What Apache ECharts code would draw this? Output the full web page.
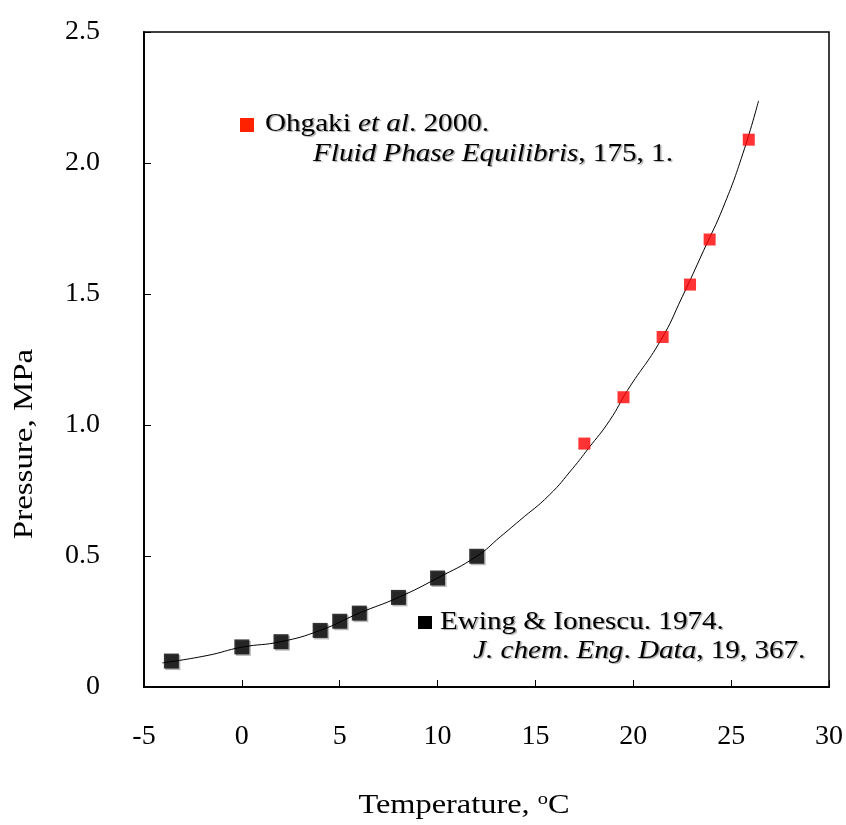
<!DOCTYPE html>
<html>
<head>
<meta charset="utf-8">
<script src="https://cdn.jsdelivr.net/npm/echarts@6/dist/echarts.min.js"></script>
<style>html,body{margin:0;padding:0;background:#fff}#c{width:846px;height:825px}</style>
</head>
<body>
<div id="c"></div>
<script>
// Ewing & Ionescu 1974 (black)
var ewingT = [-3.6, 0.0, 2.0, 4.0, 5.0, 6.0, 8.0, 10.0, 12.0];
var ewingP = [0.099, 0.153, 0.173, 0.216, 0.251, 0.282, 0.342, 0.416, 0.499];
// Ohgaki et al. 2000 (red)
var ohgakiT = [17.5, 19.5, 21.5, 22.9, 23.9, 25.9];
var ohgakiP = [0.929, 1.106, 1.336, 1.536, 1.708, 2.089];
// fitted curve
var curveT = [-4.06, -1.78, 0.0, 2.0, 4.0, 6.0, 8.0, 10.0, 12.0, 13.2, 14.2, 15.7, 16.9, 17.7, 18.8, 19.7, 21.4, 22.5, 23.6, 24.6, 25.6, 26.4];
var curveP = [0.092, 0.120, 0.152, 0.173, 0.216, 0.282, 0.342, 0.416, 0.499, 0.573, 0.636, 0.732, 0.834, 0.910, 1.018, 1.132, 1.323, 1.489, 1.667, 1.832, 2.036, 2.237];
var xTicks = ['-5', '0', '5', '10', '15', '20', '25', '30'];
var yTicks = ['0', '0.5', '1.0', '1.5', '2.0', '2.5'];

function zip(a, b) { return a.map(function (v, i) { return [v, b[i]]; }); }

var FONT = 'Liberation Serif';
var shadow = { textShadowColor: 'rgba(0,0,0,0.35)', textShadowOffsetX: 1.5, textShadowOffsetY: 1.5, textShadowBlur: 1 };
function st(o) { var r = { fontFamily: FONT, fontSize: 26, fill: '#000' }; for (var k in shadow) r[k] = shadow[k]; for (var k2 in o) r[k2] = o[k2]; return r; }
var richNI = { n: { fontFamily: FONT, fontSize: 26 }, i: { fontFamily: FONT, fontSize: 26, fontStyle: 'italic' } };
var SX = 1.12;

var chart = echarts.init(document.getElementById('c'));
chart.setOption({
  animation: false,
  backgroundColor: '#fff',
  grid: { left: 144, right: 16, top: 32, bottom: 138, show: true, borderColor: '#000', borderWidth: 1.5 },
  xAxis: {
    type: 'value', min: -5, max: 30, interval: 5,
    axisLine: { onZero: false, lineStyle: { color: '#000', width: 2 } },
    axisTick: { inside: true, length: 7, lineStyle: { color: '#000', width: 1 } },
    axisLabel: { margin: 36, fontFamily: FONT, fontSize: 28, color: '#000',
      formatter: function (v) { return xTicks[Math.round((v + 5) / 5)]; } },
    splitLine: { show: false }
  },
  yAxis: {
    type: 'value', min: 0, max: 2.5, interval: 0.5,
    axisLine: { onZero: false, lineStyle: { color: '#000', width: 2 } },
    axisTick: { inside: true, length: 7, lineStyle: { color: '#000', width: 1 } },
    axisLabel: { margin: 44, fontFamily: FONT, fontSize: 28, color: '#000', padding: [0, 0, 10, 0],
      formatter: function (v) { return yTicks[Math.round(v / 0.5)]; } },
    splitLine: { show: false }
  },
  series: [
    { type: 'line', data: zip(curveT, curveP), smooth: true, showSymbol: false, symbol: 'none',
      lineStyle: { color: '#000', width: 1 }, z: 2 },
    { type: 'scatter', data: zip(ewingT, ewingP), symbol: 'rect', symbolSize: 15,
      itemStyle: { color: '#000', shadowColor: 'rgba(0,0,0,0.35)', shadowOffsetX: 1.5, shadowOffsetY: 1.5 }, z: 3 },
    { type: 'scatter', data: zip(ohgakiT, ohgakiP), symbol: 'rect', symbolSize: 12,
      itemStyle: { color: '#ff0000' }, z: 3 }
  ],
  graphic: [
    { type: 'rect', shape: { x: 240, y: 118, width: 14, height: 14 }, style: { fill: '#ff2200' } },
    { type: 'text', x: 265, y: 124, scaleX: SX, style: st({ x: 0, y: 0, textVerticalAlign: 'middle',
      text: '{n|Ohgaki }{i|et al}{n|. 2000.}', rich: richNI }) },
    { type: 'text', x: 313, y: 154, scaleX: SX, style: st({ x: 0, y: 0, textVerticalAlign: 'middle',
      text: '{i|Fluid Phase Equilibris}{n|, 175, 1.}', rich: richNI }) },
    { type: 'rect', shape: { x: 418, y: 616, width: 14, height: 13 }, style: { fill: '#000' } },
    { type: 'text', x: 440, y: 622, scaleX: SX, style: st({ x: 0, y: 0, textVerticalAlign: 'middle',
      text: 'Ewing & Ionescu. 1974.' }) },
    { type: 'text', x: 473, y: 651, scaleX: SX, style: st({ x: 0, y: 0, textVerticalAlign: 'middle',
      text: '{i|J. chem}{n|. }{i|Eng}{n|. }{i|Data}{n|, 19, 367.}', rich: richNI }) },
    { type: 'text', x: 464, y: 806, scaleX: 1.2, style: { x: 0, y: 0, textAlign: 'center', textVerticalAlign: 'middle', fontFamily: FONT, fontSize: 27, fill: '#000',
      text: '{n|Temperature, }{s|o}{n|C}',
      rich: { n: { fontFamily: FONT, fontSize: 27, lineHeight: 30 }, s: { fontFamily: FONT, fontSize: 17, verticalAlign: 'top', lineHeight: 18 } } } },
    { type: 'text', rotation: Math.PI / 2, x: 25, y: 444, scaleX: 1.22, style: { x: 0, y: 0, textAlign: 'center', textVerticalAlign: 'middle', fontFamily: FONT, fontSize: 27, fill: '#000', text: 'Pressure, MPa' } }
  ]
});
</script>
</body>
</html>
